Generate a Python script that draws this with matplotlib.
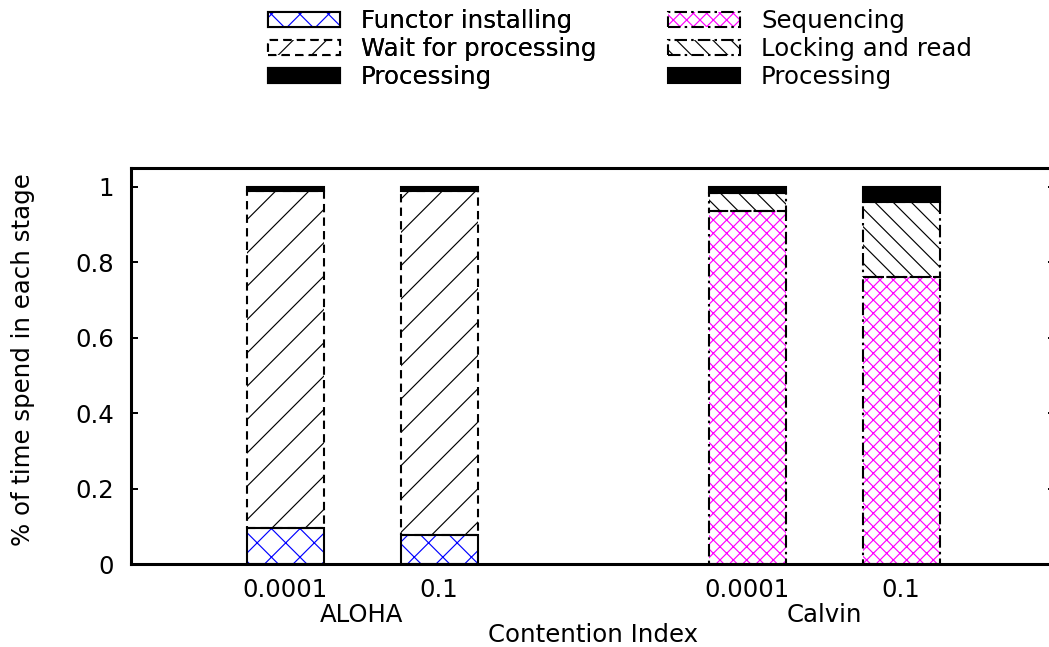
import numpy as np
import matplotlib
matplotlib.use("Agg")
import matplotlib.pyplot as plt
import matplotlib.hatch as mhatch
from matplotlib.path import Path
from matplotlib.patches import Patch

# ---------------- data ----------------
systems = ["ALOHA", "Calvin"]
contention = ["0.0001", "0.1"]
aloha_functor = [0.095, 0.077]
aloha_wait = [0.893, 0.911]
aloha_proc = [0.012, 0.012]
calvin_seq = [0.935, 0.762]
calvin_lock = [0.050, 0.198]
calvin_proc = [0.015, 0.040]
yticks = [0, 0.2, 0.4, 0.6, 0.8, 1.0]
ytick_labels = ["0", "0.2", "0.4", "0.6", "0.8", "1"]

# ---------------- custom hatch densities (lines per tile) ----------------
HATCH_LINES = {"/": (6, 0), "\\": (0, 11), "x": (7, 7), "X": (15, 15)}


class _NE(mhatch.HatchPatternBase):
    def __init__(self, hatch, density):
        self.n = HATCH_LINES.get(hatch, (0, 0))[0]
        self.num_vertices = 2 * (2 * self.n + 1) if self.n else 0

    def set_vertices_and_codes(self, vertices, codes):
        c = np.arange(-self.n, self.n + 1) / self.n
        vertices[0::2, 0] = c
        vertices[0::2, 1] = 0.0
        vertices[1::2, 0] = c + 1.0
        vertices[1::2, 1] = 1.0
        codes[0::2] = Path.MOVETO
        codes[1::2] = Path.LINETO


class _SE(mhatch.HatchPatternBase):
    def __init__(self, hatch, density):
        self.n = HATCH_LINES.get(hatch, (0, 0))[1]
        self.num_vertices = 2 * (2 * self.n + 1) if self.n else 0

    def set_vertices_and_codes(self, vertices, codes):
        c = np.arange(-self.n, self.n + 1) / self.n
        vertices[0::2, 0] = c
        vertices[0::2, 1] = 1.0
        vertices[1::2, 0] = c + 1.0
        vertices[1::2, 1] = 0.0
        codes[0::2] = Path.MOVETO
        codes[1::2] = Path.LINETO


mhatch._hatch_types[:] = [_NE, _SE]

# ---------------- style ----------------
DPI = 200
plt.rcParams["font.family"] = ["DejaVu Sans"]
plt.rcParams["font.size"] = 8.8
plt.rcParams["hatch.linewidth"] = 0.42
EDGE_LW = 0.75
DASHED = (0, (4, 2.5))
DASHDOT = (0, (6, 2, 1.2, 2))

fig = plt.figure(figsize=(1049 / DPI, 647 / DPI), dpi=DPI)
ax = fig.add_axes([131 / 1049, 83 / 647, 924 / 1049, 396 / 647])

W = 0.5
aloha_x = np.arange(len(contention))
calvin_x = np.arange(len(contention)) + len(contention) + 1


def stack(xs, segs):
    bottom = np.zeros(len(xs))
    for vals, hatch, hcolor, ls in segs:
        vals = np.asarray(vals, dtype=float)
        if hatch is None:
            ax.bar(xs, vals, W, bottom=bottom, facecolor="black",
                   edgecolor="black", linewidth=EDGE_LW, zorder=3)
        else:
            ax.bar(xs, vals, W, bottom=bottom, color="white",
                   edgecolor=hcolor, hatch=hatch, linewidth=0, zorder=2)
            ax.bar(xs, vals, W, bottom=bottom, facecolor="none",
                   edgecolor="black", linewidth=EDGE_LW, linestyle=ls,
                   zorder=3)
        bottom = bottom + vals


stack(aloha_x, [(aloha_functor, "x", "blue", "-"),
                (aloha_wait, "/", "black", DASHED),
                (aloha_proc, None, None, "-")])
stack(calvin_x, [(calvin_seq, "X", "magenta", DASHDOT),
                 (calvin_lock, "\\", "black", DASHDOT),
                 (calvin_proc, None, None, "-")])

ax.set_xlim(-1, 5)
ax.set_ylim(0, 1.05)
ax.set_yticks(yticks)
ax.set_yticklabels(ytick_labels)
ax.set_xticks(list(aloha_x) + list(calvin_x))
ax.set_xticklabels(contention + contention)
ax.tick_params(axis="y", which="both", direction="in", left=True, right=True,
               length=2.5, width=0.7, pad=6)
ax.tick_params(axis="x", length=0, pad=5.0)
for sp in ax.spines.values():
    sp.set_linewidth(1.1)

# group labels
for xs, name in [(aloha_x, systems[0]), (calvin_x, systems[1])]:
    ax.text(np.mean(xs), -0.1465, name, transform=ax.get_xaxis_transform(),
            ha="center", va="baseline")

fig.text(593 / 1049, 5 / 647, "Contention Index", ha="center", va="baseline")
fig.text(23 / 1049, (647 - 360) / 647, "% of time spend in each stage",
         rotation=90, ha="center", va="center")

# ---------------- legends ----------------
def hpatch(hatch, hcolor, ls):
    return (Patch(facecolor="white", edgecolor=hcolor, hatch=hatch, linewidth=0),
            Patch(facecolor="none", edgecolor="black", linewidth=EDGE_LW,
                  linestyle=ls))


proc_handle = Patch(facecolor="black", edgecolor="black", linewidth=EDGE_LW)
leg_kw = dict(loc="upper left", frameon=False, borderpad=0, borderaxespad=0,
              handlelength=2.95, handleheight=0.57, handletextpad=0.85,
              labelspacing=0.165)
leg1 = fig.legend([hpatch("x", "blue", "-"), hpatch("/", "black", DASHED), proc_handle],
                  ["Functor installing", "Wait for processing", "Processing"],
                  bbox_to_anchor=(268 / 1049, (647 - 9) / 647), **leg_kw)
fig.add_artist(leg1)
leg2 = fig.legend([hpatch("X", "magenta", DASHDOT), hpatch("\\", "black", DASHDOT), proc_handle],
                  ["Sequencing", "Locking and read", "Processing"],
                  bbox_to_anchor=(668 / 1049, (647 - 9) / 647), **leg_kw)

fig.savefig("out.png", dpi=DPI)
